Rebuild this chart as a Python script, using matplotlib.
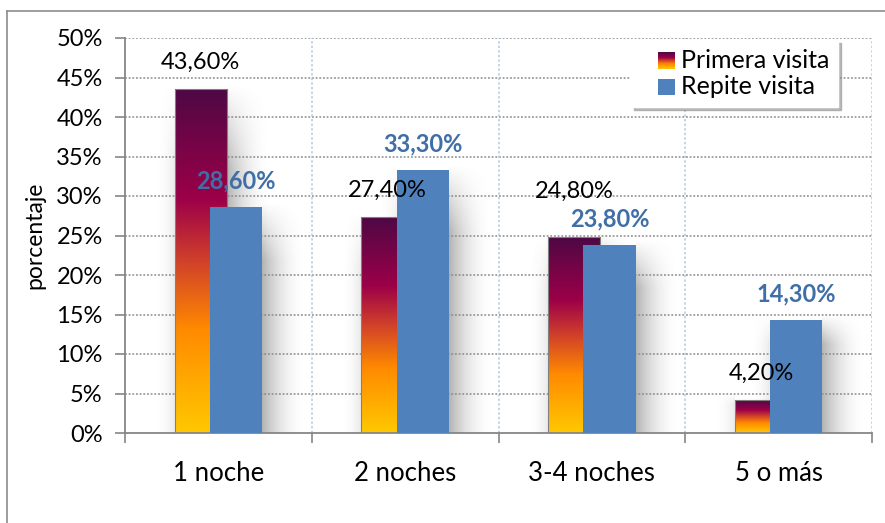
import numpy as np
import matplotlib
matplotlib.use("Agg")
import matplotlib.pyplot as plt
from matplotlib.colors import LinearSegmentedColormap
from matplotlib.legend_handler import HandlerBase
from matplotlib.image import BboxImage
from matplotlib.transforms import Bbox, TransformedBbox
from matplotlib.patches import Patch
from matplotlib.lines import Line2D

plt.rcParams['font.family'] = ['Lato', 'DejaVu Sans']

categories = ['1 noche', '2 noches', '3-4 noches', '5 o más']
primera = [43.6, 27.4, 24.8, 4.2]
repite = [28.6, 33.3, 23.8, 14.3]
primera_labels = ['43,60%', '27,40%', '24,80%', '4,20%']
repite_labels = ['28,60%', '33,30%', '23,80%', '14,30%']
y_ticks = [0, 5, 10, 15, 20, 25, 30, 35, 40, 45, 50]

blue = '#4F81BD'
label_blue = '#3F6FA6'
grad_cmap = LinearSegmentedColormap.from_list(
    'warm', [(0.0, '#FFC800'), (0.3, '#FF8A00'), (0.5, '#D0402A'),
             (0.68, '#9C0048'), (1.0, '#4E0845')])
grad = np.linspace(0, 1, 256).reshape(-1, 1)


class GradHandler(HandlerBase):
    def create_artists(self, legend, orig_handle, xdescent, ydescent,
                       width, height, fontsize, trans):
        side = height * 0.95
        bb = Bbox.from_bounds(xdescent + width - side, -ydescent - 0.05 * height, side, side)
        img = BboxImage(TransformedBbox(bb, trans), cmap=grad_cmap, origin='lower')
        img.set_data(grad)
        return [img]


class SquareHandler(HandlerBase):
    def create_artists(self, legend, orig_handle, xdescent, ydescent,
                       width, height, fontsize, trans):
        side = height * 0.95
        r = plt.Rectangle((xdescent + width - side, -ydescent - 0.05 * height), side, side,
                          facecolor=blue, edgecolor='none', transform=trans)
        return [r]


fig = plt.figure(figsize=(8.85, 5.23), dpi=100)
ax = fig.add_axes([125 / 885, 90 / 523, 747 / 885, 395 / 523])

x = np.arange(len(categories))
w = 0.28
off = 0.094
px = 1 / 187.0  # data units per pixel in x
py = 50 / 395.0  # data units per pixel in y

# soft shadows behind the bars
fade_top = np.clip(np.linspace(0, 1, 64) / 0.25, 0, 1)[::-1].reshape(-1, 1)
for xs, hs in ((x - off, primera), (x + off, repite)):
    for xc, h in zip(xs, hs):
        top = h + 6 * py
        right = np.zeros((64, 64, 4))
        right[..., :3] = 0.35
        right[..., 3] = 0.45 * (1 - np.linspace(0, 1, 64)) ** 2 * fade_top
        ax.imshow(right, extent=[xc + w / 2, xc + w / 2 + 45 * px, 0, top],
                  aspect='auto', zorder=1, interpolation='bilinear', origin='lower')
        left = np.zeros((64, 64, 4))
        left[..., :3] = 0.45
        left[..., 3] = 0.15 * np.linspace(0, 1, 64) ** 2 * fade_top
        ax.imshow(left, extent=[xc - w / 2 - 20 * px, xc - w / 2, 0, top],
                  aspect='auto', zorder=1, interpolation='bilinear', origin='lower')

# grid lines
for yt in y_ticks[1:]:
    ax.axhline(yt, color='#8a8a8a', lw=1.1, ls=(0, (1.2, 1.2)), zorder=1.5)
for xb in [0.5, 1.5, 2.5, 3.5]:
    ax.axvline(xb, color='#B4C6E4', lw=1.1, ls=(0, (1.5, 1.5)), zorder=1.5)

bars1 = ax.bar(x - off, primera, w, facecolor='none', edgecolor='#808080', lw=0.8, zorder=2.1)
for b in bars1:
    im = ax.imshow(grad, extent=[b.get_x(), b.get_x() + b.get_width(), 0, b.get_height()],
                   aspect='auto', cmap=grad_cmap, origin='lower', zorder=2)
    im.set_clip_path(b)
bars2 = ax.bar(x + off, repite, w, color=blue, zorder=3)

# data labels
label_shift = {2: 33}
for i, (v, t) in enumerate(zip(primera, primera_labels)):
    ax.annotate(t, (x[i] - off, v), xytext=(0, label_shift.get(i, 19)),
                textcoords='offset points', ha='center', va='center',
                fontsize=17, color='black', zorder=5)
for i, (v, t) in enumerate(zip(repite, repite_labels)):
    ax.annotate(t, (x[i] + off, v), xytext=(0, 19),
                textcoords='offset points', ha='center', va='center',
                fontsize=17, color=label_blue, fontweight='bold', zorder=5)

ax.set_xlim(-0.5, 3.5)
ax.set_ylim(0, 50)
ax.set_yticks(y_ticks)
ax.set_yticklabels([f'{v}%' for v in y_ticks], fontsize=17)
ax.set_xticks(x)
ax.set_xticklabels(categories, fontsize=18.5)
ax.set_xticks([-0.5, 0.5, 1.5, 2.5, 3.5], minor=True)
ax.tick_params(axis='x', which='major', length=0, pad=20)
ax.tick_params(axis='x', which='minor', length=7, color='#868686', width=1.2)
ax.tick_params(axis='y', length=7, color='#868686', width=1.2, pad=9)
ax.set_ylabel('porcentaje', fontsize=16.5, labelpad=8)

for s in ['top', 'right']:
    ax.spines[s].set_visible(False)
for s in ['left', 'bottom']:
    ax.spines[s].set_color('#868686')
    ax.spines[s].set_linewidth(1.3)

h1 = Patch(facecolor='#9C0048')
h2 = Patch(facecolor=blue)
leg = ax.legend([h1, h2], ['Primera visita', 'Repite visita'],
                handler_map={h1: GradHandler(), h2: SquareHandler()},
                loc='upper right', bbox_to_anchor=(0.955, 0.995), borderaxespad=0,
                fontsize=18, frameon=True, fancybox=False, shadow={'color': '#909090', 'alpha': 0.6},
                handlelength=1.4, handletextpad=0.25, labelspacing=0.15, borderpad=0.35)
leg.get_frame().set_edgecolor('white')
leg.get_frame().set_facecolor('white')
leg.set_zorder(6)

# outer chart frame
fig.add_artist(Line2D([7 / 885, 7 / 885], [0, 1 - 11 / 523], color='#8c8c8c', lw=1.2))
fig.add_artist(Line2D([7 / 885, 1], [1 - 11 / 523, 1 - 11 / 523], color='#8c8c8c', lw=1.2))

fig.savefig('out.png', dpi=100)
